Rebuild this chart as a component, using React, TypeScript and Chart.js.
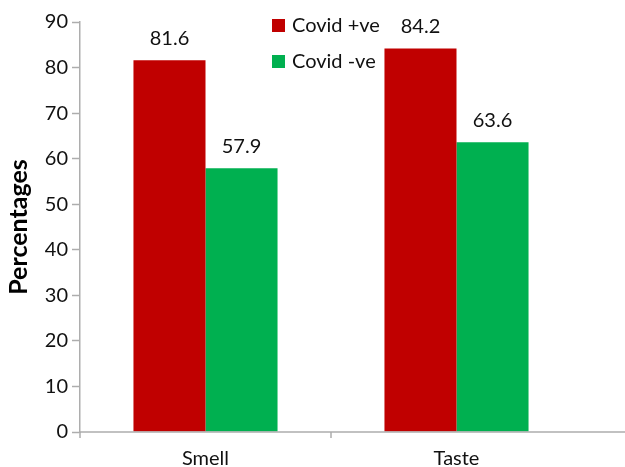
import React, { useEffect, useRef } from "react";
import { Chart, registerables } from "chart.js";

Chart.register(...registerables);

const categories = ["Smell", "Taste"];
const seriesLabels = ["Covid +ve", "Covid -ve"];
const covidPositive = [81.6, 84.2];
const covidNegative = [57.9, 63.6];
const seriesColors = ["#C00000", "#00B050"];
const yTickMin = 0;
const yTickMax = 90;
const yTickStep = 10;

const FONT = "Lato, 'Open Sans', sans-serif";
const AXIS = "#ADADAD";

const valueLabels = {
  id: "valueLabels",
  afterDatasetsDraw(chart: any) {
    const ctx = chart.ctx;
    ctx.save();
    ctx.font = `20px ${FONT}`;
    ctx.fillStyle = "#111";
    ctx.textAlign = "center";
    ctx.textBaseline = "alphabetic";
    chart.data.datasets.forEach((ds: any, di: number) => {
      const meta = chart.getDatasetMeta(di);
      meta.data.forEach((el: any, i: number) => {
        ctx.fillText(ds.data[i].toFixed(1), el.x, el.y - 15);
      });
    });
    ctx.restore();
  },
};

const xAxisLine = {
  id: "xAxisLine",
  afterDraw(chart: any) {
    const ctx = chart.ctx;
    const xs = chart.scales.x;
    const y = chart.scales.y.getPixelForValue(0);
    const half = (xs.getPixelForValue(1) - xs.getPixelForValue(0)) / 2;
    ctx.save();
    ctx.strokeStyle = AXIS;
    ctx.lineWidth = 1.5;
    ctx.beginPath();
    ctx.moveTo(chart.chartArea.left, y);
    ctx.lineTo(chart.width, y);
    for (let i = 0; i < categories.length; i++) {
      const x = xs.getPixelForValue(i) - half;
      ctx.moveTo(x, y);
      ctx.lineTo(x, y + 6);
    }
    ctx.stroke();
    ctx.restore();
  },
};

const customLegend = {
  id: "customLegend",
  afterDraw(chart: any) {
    const ctx = chart.ctx;
    ctx.save();
    ctx.font = `20px ${FONT}`;
    ctx.textBaseline = "middle";
    ctx.textAlign = "left";
    chart.data.datasets.forEach((ds: any, i: number) => {
      const cy = 25.5 + i * 36;
      ctx.fillStyle = ds.backgroundColor;
      ctx.fillRect(272, cy - 6.5, 13, 13);
      ctx.fillStyle = "#111";
      ctx.fillText(ds.label, 292, cy);
    });
    ctx.restore();
  },
};

export default function App() {
  const ref = useRef<HTMLCanvasElement | null>(null);
  useEffect(() => {
    if (!ref.current) return;
    const chart = new Chart(ref.current, {
      type: "bar",
      data: {
        labels: categories,
        datasets: [
          { label: seriesLabels[0], data: covidPositive, backgroundColor: seriesColors[0] },
          { label: seriesLabels[1], data: covidNegative, backgroundColor: seriesColors[1] },
        ],
      },
      options: {
        animation: false,
        responsive: true,
        maintainAspectRatio: false,
        layout: { padding: { top: 22, right: 43, left: 0, bottom: 0 } },
        datasets: { bar: { categoryPercentage: 0.574, barPercentage: 1 } },
        plugins: {
          legend: { display: false },
          tooltip: { enabled: false },
          title: { display: false },
        },
        scales: {
          x: {
            grid: {
              display: true,
              drawOnChartArea: false,
              drawTicks: true,
              tickLength: 6,
              color: "rgba(0,0,0,0)",
              tickColor: "rgba(0,0,0,0)",
            },
            border: { display: false },
            ticks: { color: "#111", font: { family: FONT, size: 20 }, padding: 9 },
            afterFit: (s: any) => {
              s.height = 35;
            },
          },
          y: {
            min: yTickMin,
            max: yTickMax,
            grid: {
              display: true,
              drawOnChartArea: false,
              drawTicks: true,
              tickLength: 8,
              tickColor: AXIS,
              tickWidth: 1.5,
            },
            border: { display: true, color: AXIS, width: 1.5 },
            ticks: { stepSize: yTickStep, color: "#111", font: { family: FONT, size: 20 }, padding: 4 },
            title: {
              display: true,
              text: "Percentages",
              color: "#000",
              font: { family: FONT, size: 25, weight: "bold" },
              padding: { top: 4, bottom: 4 },
            },
            afterFit: (s: any) => {
              s.width = 80;
            },
          },
        },
      },
      plugins: [valueLabels, xAxisLine, customLegend],
    });
    return () => chart.destroy();
  }, []);
  return (
    <div style={{ position: "fixed", left: 0, top: 0, width: 625, height: 467, background: "#fff" }}>
      <canvas ref={ref} />
    </div>
  );
}
